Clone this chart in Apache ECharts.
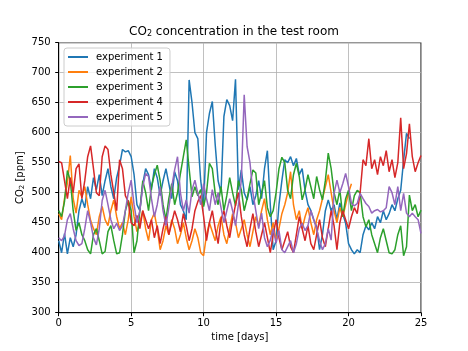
<!DOCTYPE html>
<html>
<head>
<meta charset="utf-8">
<script src="https://cdn.jsdelivr.net/npm/echarts@6/dist/echarts.min.js"></script>
<style>
  html, body { margin: 0; padding: 0; background: #fff; }
  #chart { width: 468px; height: 351px; }
</style>
</head>
<body>
<div id="chart"></div>
<script>
// sample times [days], every 0.2 day
var days = [
  0, 0.2, 0.4, 0.6, 0.8, 1, 1.2, 1.4, 1.6, 1.8,
  2, 2.2, 2.4, 2.6, 2.8, 3, 3.2, 3.4, 3.6, 3.8,
  4, 4.2, 4.4, 4.6, 4.8, 5, 5.2, 5.4, 5.6, 5.8,
  6, 6.2, 6.4, 6.6, 6.8, 7, 7.2, 7.4, 7.6, 7.8,
  8, 8.2, 8.4, 8.6, 8.8, 9, 9.2, 9.4, 9.6, 9.8,
  10, 10.2, 10.4, 10.6, 10.8, 11, 11.2, 11.4, 11.6, 11.8,
  12, 12.2, 12.4, 12.6, 12.8, 13, 13.2, 13.4, 13.6, 13.8,
  14, 14.2, 14.4, 14.6, 14.8, 15, 15.2, 15.4, 15.6, 15.8,
  16, 16.2, 16.4, 16.6, 16.8, 17, 17.2, 17.4, 17.6, 17.8,
  18, 18.2, 18.4, 18.6, 18.8, 19, 19.2, 19.4, 19.6, 19.8,
  20, 20.2, 20.4, 20.6, 20.8, 21, 21.2, 21.4, 21.6, 21.8,
  22, 22.2, 22.4, 22.6, 22.8, 23, 23.2, 23.4, 23.6, 23.8,
  24, 24.2, 24.4, 24.6, 24.8, 25
];

var names = ['experiment 1', 'experiment 2', 'experiment 3', 'experiment 4', 'experiment 5'];
var colors = ['#1f77b4', '#ff7f0e', '#2ca02c', '#d62728', '#9467bd'];

var exp1 = [
  420, 400, 432, 398, 425, 410, 430, 470, 490, 475,
  510, 490, 525, 505, 530, 495, 520, 540, 510, 490,
  525, 545, 572, 568, 570, 560, 530, 480, 470, 515,
  540, 530, 505, 540, 525, 495, 520, 540, 515, 490,
  535, 520, 480, 470, 455, 688, 650, 600, 590, 520,
  480, 600, 632, 652, 580, 520, 500, 627, 655, 645,
  620, 689, 505, 538, 500, 488, 510, 480, 495, 520,
  490, 540, 570, 480, 405, 420, 480, 520, 555, 550,
  560, 545, 557, 530, 540, 504, 480, 470, 455, 443,
  405, 430, 470, 488, 470, 480, 455, 483, 465, 449,
  415, 405, 398, 405, 400, 430, 445, 438, 450, 440,
  460, 450, 470, 455, 465, 480, 470, 490, 504, 554,
  599, 590
];
var exp2 = [
  465, 455, 490, 516, 562, 490, 466, 504, 493, 510,
  480, 454, 440, 430, 460, 477, 455, 445, 470, 488,
  460, 440, 450, 430, 455, 493, 460, 435, 450, 470,
  440, 420, 455, 466, 440, 405, 420, 445, 430, 455,
  440, 415, 430, 450, 425, 405, 420, 440, 425, 400,
  395, 430, 450, 435, 420, 445, 460, 430, 415, 440,
  465, 450, 425, 440, 455, 430, 410, 435, 460, 445,
  470, 490, 455, 430, 450, 420, 440, 465, 480, 500,
  535, 480, 455, 470, 440, 460, 475, 450, 430, 455,
  470, 490, 510, 530, 500, 470, 450, 475, 460, 480,
  500, 515
];
var exp3 = [
  470, 460, 485, 537, 520, 470, 437, 450, 430, 420,
  405, 398, 430, 440, 420, 398, 402, 435, 445, 420,
  398, 400, 430, 470, 487, 470, 400, 420, 470, 520,
  500, 470, 510, 530, 546, 520, 480, 455, 490, 515,
  480, 500, 532, 560, 588, 540, 493, 510, 495, 505,
  477, 500, 549, 540, 499, 480, 510, 470, 495, 525,
  500, 478, 520, 505, 470, 490, 515, 538, 533, 480,
  500, 520, 475, 460, 470, 500, 540, 559, 550, 504,
  490, 530, 549, 527, 488, 505, 530, 510, 490, 527,
  505, 488, 520, 566, 540, 500, 480, 505, 460, 490,
  504, 470, 495, 504, 500, 460, 443, 455, 430, 415,
  400, 425, 440, 420, 400, 398, 405, 430, 445, 395,
  410, 496, 470, 480, 460, 471
];
var exp4 = [
  552, 550, 520, 490, 525, 500, 540, 548, 490, 520,
  560, 578, 540, 500, 495, 560, 578, 572, 530, 500,
  470, 555, 540, 495, 485, 450, 445, 462, 440, 470,
  455, 440, 455, 425, 445, 415, 440, 460, 430, 450,
  470, 455, 435, 465, 445, 420, 440, 470, 485, 495,
  460, 420, 450, 470, 440, 415, 455, 470, 445, 425,
  455, 480, 500, 460, 430, 410, 440, 465, 435, 410,
  430, 450, 425, 400, 430, 455, 425, 405, 420, 435,
  410, 400, 430, 460, 440, 420, 445, 415, 405, 430,
  455, 425, 410, 440, 470, 445, 405, 450, 470, 455,
  440, 460, 475, 465, 500, 555, 545, 590, 540, 555,
  530, 560, 545, 570, 535, 555, 525, 550, 625, 540,
  565, 615, 560, 535, 550, 562
];
var exp5 = [
  425, 420, 428, 455, 465, 440, 420, 412, 415, 440,
  470, 450, 425, 413, 440, 487, 504, 480, 455, 440,
  449, 437, 445, 470, 500, 521, 480, 450, 470, 510,
  532, 527, 490, 460, 480, 510, 470, 445, 475, 510,
  538, 560, 500, 470, 488, 466, 505, 521, 499, 480,
  515, 490, 470, 505, 480, 500, 475, 450, 470, 490,
  470, 445, 480, 520, 663, 577, 550, 500, 470, 440,
  466, 425, 410, 421, 440, 416, 437, 405, 400, 410,
  420, 400, 415, 440, 449, 437, 445, 470, 455, 440,
  420, 405, 415, 440, 421, 499, 521, 500, 515, 532,
  510, 482, 478, 482, 499, 490, 482, 477, 466, 470,
  472, 468, 470, 475, 510, 500, 480, 510, 470, 499,
  466, 460, 466, 460, 455, 432
];

var xTicks = [0, 5, 10, 15, 20, 25];
var yTicks = [300, 350, 400, 450, 500, 550, 600, 650, 700, 750];

var allSeries = [exp1, exp2, exp3, exp4, exp5];
var font = 'DejaVu Sans';

var chart = echarts.init(document.getElementById('chart'));

var series = allSeries.map(function (vals, k) {
  return {
    name: names[k],
    type: 'line',
    showSymbol: false,
    symbol: 'none',
    data: vals.map(function (v, i) { return [days[i], v]; }),
    lineStyle: { color: colors[k], width: 1.5 },
    itemStyle: { color: colors[k] }
  };
});

var option = {
  animation: false,
  color: colors,
  title: {
    text: 'CO{sub|2} concentration in the test room',
    left: 'center',
    top: 21,
    textStyle: {
      fontFamily: font, fontSize: 12, fontWeight: 'normal', color: '#000',
      rich: { sub: { fontFamily: font, fontSize: 8, verticalAlign: 'bottom', lineHeight: 10 } }
    }
  },
  legend: {
    orient: 'vertical',
    left: 64,
    top: 48,
    padding: [4, 7, 4, 4],
    itemWidth: 20,
    itemHeight: 2,
    itemGap: 5,
    icon: 'rect',
    backgroundColor: 'rgba(255,255,255,0.8)',
    borderColor: '#cccccc',
    borderWidth: 1,
    borderRadius: 3,
    textStyle: { fontFamily: font, fontSize: 10, color: '#000', padding: [0, 0, 0, 3], lineHeight: 10 },
    data: names
  },
  grid: {
    left: 58.7, right: 47, top: 42.7, bottom: 38.3,
    show: true, borderColor: '#000', borderWidth: 1, backgroundColor: 'transparent'
  },
  xAxis: {
    type: 'value',
    min: xTicks[0], max: xTicks[xTicks.length - 1], interval: 5,
    name: 'time [days]', nameLocation: 'middle', nameGap: 20, nameMoveOverlap: false,
    nameTextStyle: { fontFamily: font, fontSize: 10, color: '#000' },
    axisLine: { show: true, lineStyle: { color: '#000', width: 1 } },
    axisTick: { show: true, inside: false, length: 3.5, lineStyle: { color: '#000' } },
    axisLabel: { fontFamily: font, fontSize: 10, color: '#000', margin: 6 },
    splitLine: { show: true, lineStyle: { color: '#b0b0b0', width: 0.8 } }
  },
  yAxis: {
    type: 'value',
    min: yTicks[0], max: yTicks[yTicks.length - 1], interval: 50,
    name: 'CO{sub|2} [ppm]', nameLocation: 'middle', nameGap: 33, nameRotate: 90,
    nameMoveOverlap: false,
    nameTextStyle: {
      fontFamily: font, fontSize: 10, color: '#000',
      rich: { sub: { fontFamily: font, fontSize: 7, verticalAlign: 'bottom', lineHeight: 8 } }
    },
    axisLine: { show: true, lineStyle: { color: '#000', width: 1 } },
    axisTick: { show: true, inside: false, length: 3.5, lineStyle: { color: '#000' } },
    axisLabel: { fontFamily: font, fontSize: 10, color: '#000', margin: 8 },
    splitLine: { show: true, lineStyle: { color: '#b0b0b0', width: 0.8 } }
  },
  series: series
};

chart.setOption(option);
</script>
</body>
</html>
